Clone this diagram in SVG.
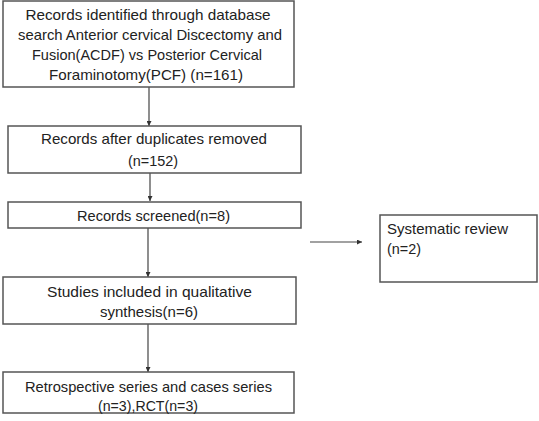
<svg xmlns="http://www.w3.org/2000/svg" width="539" height="421" viewBox="0 0 539 421">
<style>
.box{fill:#fff;stroke:#555;stroke-width:1.5}
.t{font-family:"Liberation Sans",Arial,sans-serif;font-size:15px;fill:#222}
.c{text-anchor:middle}
.ln{stroke:#444;stroke-width:1.2;fill:none}
</style>
<defs>
<marker id="ah" viewBox="0 0 6 6" refX="6" refY="3" markerWidth="5" markerHeight="5" markerUnits="userSpaceOnUse" orient="auto">
<path d="M0,0 L6,3 L0,6 z" fill="#333"/>
</marker>
</defs>
<rect width="539" height="421" fill="#fff"/>
<g id="connectors">
<line class="ln" x1="149" y1="87" x2="149" y2="126" marker-end="url(#ah)"/>
<line class="ln" x1="150" y1="173" x2="150" y2="201" marker-end="url(#ah)"/>
<line class="ln" x1="148" y1="228" x2="148" y2="277" marker-end="url(#ah)"/>
<line class="ln" x1="148" y1="324" x2="148" y2="372" marker-end="url(#ah)"/>
<line class="ln" x1="310" y1="242" x2="362" y2="242" marker-end="url(#ah)"/>
</g>
<g id="n1">
<rect class="box" x="3" y="1" width="291" height="86"/>
<text class="t c" x="148" y="20" textLength="245" lengthAdjust="spacingAndGlyphs">Records identified through database</text>
<text class="t c" x="150" y="40" textLength="264" lengthAdjust="spacingAndGlyphs">search Anterior cervical Discectomy and</text>
<text class="t c" x="147" y="60" textLength="230" lengthAdjust="spacingAndGlyphs">Fusion(ACDF) vs Posterior Cervical</text>
<text class="t c" x="146" y="80" textLength="194" lengthAdjust="spacingAndGlyphs">Foraminotomy(PCF) (n=161)</text>
</g>
<g id="n2">
<rect class="box" x="8" y="126" width="293" height="47"/>
<text class="t c" x="154" y="144" textLength="226" lengthAdjust="spacingAndGlyphs">Records after duplicates removed</text>
<text class="t c" x="153" y="166" textLength="50" lengthAdjust="spacingAndGlyphs">(n=152)</text>
</g>
<g id="n3">
<rect class="box" x="8" y="202" width="293" height="26"/>
<text class="t c" x="153.5" y="221" textLength="153" lengthAdjust="spacingAndGlyphs">Records screened(n=8)</text>
</g>
<g id="n4">
<rect class="box" x="3" y="277" width="293" height="47"/>
<text class="t c" x="149.5" y="297" textLength="205" lengthAdjust="spacingAndGlyphs">Studies included in qualitative</text>
<text class="t c" x="149" y="317" textLength="98" lengthAdjust="spacingAndGlyphs">synthesis(n=6)</text>
</g>
<g id="n5">
<rect class="box" x="3" y="372" width="291" height="41"/>
<text class="t c" x="148.5" y="392" textLength="247" lengthAdjust="spacingAndGlyphs">Retrospective series and cases series</text>
<text class="t c" x="148" y="411" textLength="100" lengthAdjust="spacingAndGlyphs">(n=3),RCT(n=3)</text>
</g>
<g id="n6">
<rect class="box" x="380" y="215" width="157" height="67"/>
<text class="t" x="387" y="234" textLength="121" lengthAdjust="spacingAndGlyphs">Systematic review</text>
<text class="t" x="387" y="254" textLength="34" lengthAdjust="spacingAndGlyphs">(n=2)</text>
</g>
</svg>
